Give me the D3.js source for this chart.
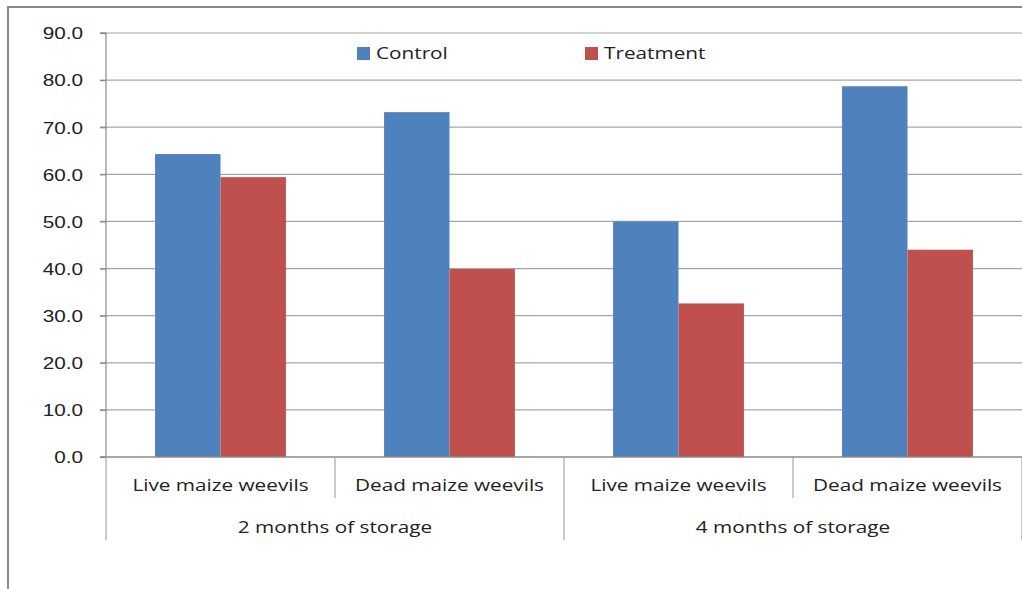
<!DOCTYPE html>
<html>
<head>
<meta charset="utf-8">
<script src="https://cdn.jsdelivr.net/npm/d3@7"></script>
<style>
  html, body { margin: 0; padding: 0; background: #fff; }
  svg { display: block; font-family: "Open Sans", "DejaVu Sans", sans-serif; }
</style>
</head>
<body>
<svg id="chart" width="1022" height="589"></svg>
<script>
// Weevil counts by storage period, category and group
const groups = ["2 months of storage", "4 months of storage"];
const categories = ["Live maize weevils", "Dead maize weevils"];
const seriesNames = ["Control", "Treatment"];
const control = [64.3, 73.2, 50.0, 78.7];
const treatment = [59.4, 39.9, 32.6, 44.0];
const yTicks = [0, 10, 20, 30, 40, 50, 60, 70, 80, 90];
const colors = ["#4F81BD", "#C0504D"];

const svg = d3.select("#chart");
const W = 1022, H = 589;
const margin = { left: 106, right: 0, top: 33, bottom: 132 };
const plotW = W - margin.left - margin.right;
const plotH = H - margin.top - margin.bottom;
const FONT = 17, STRETCH = 1.22, TEXT = "#222";

// Places a horizontally widened text label at (x, y)
function label(sel, x, y) {
  return sel.attr("x", 0).attr("y", 0)
    .attr("transform", `translate(${x},${y}) scale(${STRETCH},1)`)
    .attr("font-size", FONT).attr("fill", TEXT);
}

// Outer chart frame (left and top edges visible)
svg.append("path")
  .attr("d", `M8,${H} L8,7 L${W},7`)
  .attr("fill", "none")
  .attr("stroke", "#8a8a8a")
  .attr("stroke-width", 2);

const g = svg.append("g").attr("transform", `translate(${margin.left},${margin.top})`);

// Slots: one per (group, category)
const slots = [];
groups.forEach((grp, gi) => categories.forEach((cat, ci) => slots.push({ key: gi + "-" + ci, grp, cat })));

const x0 = d3.scaleBand().domain(slots.map(d => d.key)).range([0, plotW]).paddingInner(0).paddingOuter(0);
const y = d3.scaleLinear().domain([0, 90]).range([plotH, 0]);

// Horizontal gridlines (extend slightly left of the axis as tick marks)
g.append("g").selectAll("line").data(yTicks.filter(t => t > 0)).join("line")
  .attr("x1", -6).attr("x2", plotW)
  .attr("y1", d => y(d)).attr("y2", d => y(d))
  .attr("stroke", "#a6a6a6").attr("stroke-width", 1.2);

// Bars: gap width 150% of a bar on each category slot
const barW = x0.bandwidth() / 3.5;
const x1 = d3.scaleBand().domain(seriesNames).range([barW * 0.75, barW * 2.75]).padding(0);
const data = slots.map((s, i) => ({ key: s.key, values: [control[i], treatment[i]] }));

const barG = g.append("g");
data.forEach(d => {
  barG.selectAll(null).data(d.values.map((v, si) => ({ v, si }))).join("rect")
    .attr("x", e => x0(d.key) + x1(seriesNames[e.si]))
    .attr("y", e => y(e.v))
    .attr("width", x1.bandwidth())
    .attr("height", e => plotH - y(e.v))
    .attr("fill", e => colors[e.si]);
});

// Y axis
const yAxis = d3.axisLeft(y).tickValues(yTicks).tickFormat(d3.format(".1f")).tickSize(6).tickPadding(17);
const ya = g.append("g").call(yAxis);
ya.select(".domain").attr("stroke", "#8a8a8a").attr("stroke-width", 1.2).attr("d", `M-6,0H0V${plotH}H-6`);
ya.selectAll(".tick line").attr("stroke", "#8a8a8a").attr("stroke-width", 1.2);
ya.selectAll(".tick text").each(function () {
  label(d3.select(this), -23, 0).attr("dy", "0.34em").attr("font-family", null);
});

// X axis baseline
g.append("line").attr("x1", -6).attr("x2", plotW).attr("y1", plotH).attr("y2", plotH)
  .attr("stroke", "#8a8a8a").attr("stroke-width", 1.5);

// Category dividers: short between categories, long between groups
const divs = d3.range(slots.length + 1).map(i => ({ x: i * x0.bandwidth(), long: i % categories.length === 0 }));
g.append("g").selectAll("line").data(divs).join("line")
  .attr("x1", d => d.x).attr("x2", d => d.x)
  .attr("y1", plotH).attr("y2", d => plotH + (d.long ? 83 : 41))
  .attr("stroke", "#a6a6a6").attr("stroke-width", 1.2);

// Category labels
g.append("g").selectAll("text").data(slots).join("text")
  .each(function (d) { label(d3.select(this), x0(d.key) + x0.bandwidth() / 2, plotH + 34); })
  .attr("text-anchor", "middle")
  .text(d => d.cat);

// Group labels
const grpW = x0.bandwidth() * categories.length;
g.append("g").selectAll("text").data(groups).join("text")
  .each(function (d, i) { label(d3.select(this), i * grpW + grpW / 2, plotH + 76); })
  .attr("text-anchor", "middle")
  .text(d => d);

// Legend
const legendX = [357, 585];
const leg = svg.append("g");
seriesNames.forEach((name, i) => {
  leg.append("rect").attr("x", legendX[i]).attr("y", 47).attr("width", 13).attr("height", 13).attr("fill", colors[i]);
  label(leg.append("text"), legendX[i] + 19, 59).text(name);
});
</script>
</body>
</html>
